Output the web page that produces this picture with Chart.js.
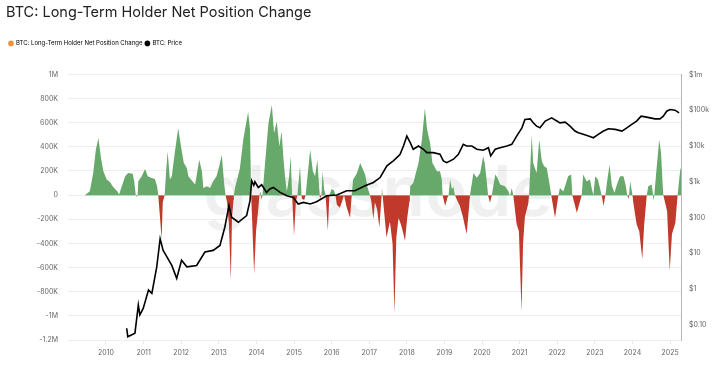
<!DOCTYPE html>
<html>
<head>
<meta charset="utf-8">
<script src="https://cdn.jsdelivr.net/npm/chart.js@4.4.1/dist/chart.umd.min.js"></script>
<style>
  html, body { margin: 0; padding: 0; background: #fff; }
  #wrap { width: 723px; height: 371px; position: relative; }
</style>
</head>
<body>
<div id="wrap"><canvas id="lth-chart"></canvas></div>
<script>
// BTC: long-term holder net position change (BTC)
const lthYears = [
  2009.44, 2009.57, 2009.66, 2009.73, 2009.80, 2009.86, 2009.93, 2010.02, 2010.11, 2010.19,
  2010.30, 2010.35, 2010.42, 2010.51, 2010.59, 2010.71, 2010.75, 2010.79, 2010.82, 2010.84,
  2010.86, 2010.95, 2011.04, 2011.11, 2011.20, 2011.30, 2011.36, 2011.39, 2011.41, 2011.48,
  2011.51, 2011.56, 2011.60, 2011.64, 2011.70, 2011.75, 2011.84, 2011.92, 2012.01, 2012.07,
  2012.15, 2012.19, 2012.26, 2012.37, 2012.41, 2012.48, 2012.55, 2012.59, 2012.68, 2012.77,
  2012.85, 2012.94, 2013.01, 2013.08, 2013.14, 2013.18, 2013.22, 2013.27, 2013.32, 2013.35,
  2013.39, 2013.40, 2013.43, 2013.56, 2013.65, 2013.78, 2013.83, 2013.86, 2013.88, 2013.94,
  2013.99, 2014.04, 2014.08, 2014.11, 2014.14, 2014.16, 2014.23, 2014.32, 2014.41, 2014.47,
  2014.54, 2014.61, 2014.67, 2014.72, 2014.76, 2014.81, 2014.87, 2014.91, 2014.95, 2015.00,
  2015.05, 2015.09, 2015.16, 2015.20, 2015.21, 2015.27, 2015.31, 2015.34, 2015.43, 2015.50,
  2015.56, 2015.62, 2015.67, 2015.69, 2015.73, 2015.76, 2015.80, 2015.84, 2015.90, 2015.94,
  2016.00, 2016.06, 2016.10, 2016.14, 2016.22, 2016.27, 2016.33, 2016.40, 2016.49, 2016.53,
  2016.57, 2016.67, 2016.76, 2016.89, 2016.96, 2017.02, 2017.06, 2017.11, 2017.15, 2017.21,
  2017.27, 2017.33, 2017.34, 2017.37, 2017.46, 2017.55, 2017.62, 2017.67, 2017.72, 2017.78,
  2017.85, 2017.91, 2017.95, 2018.01, 2018.07, 2018.08, 2018.09, 2018.17, 2018.31, 2018.40,
  2018.48, 2018.54, 2018.62, 2018.68, 2018.73, 2018.80, 2018.88, 2018.93, 2018.95, 2019.02,
  2019.08, 2019.11, 2019.15, 2019.20, 2019.24, 2019.28, 2019.32, 2019.41, 2019.49, 2019.59,
  2019.64, 2019.68, 2019.77, 2019.86, 2019.95, 2020.03, 2020.07, 2020.12, 2020.16, 2020.21,
  2020.26, 2020.35, 2020.41, 2020.48, 2020.61, 2020.70, 2020.74, 2020.79, 2020.83, 2020.92,
  2020.98, 2021.05, 2021.09, 2021.14, 2021.23, 2021.25, 2021.32, 2021.36, 2021.45, 2021.52,
  2021.59, 2021.65, 2021.72, 2021.79, 2021.84, 2021.94, 2022.03, 2022.07, 2022.16, 2022.29,
  2022.37, 2022.40, 2022.52, 2022.58, 2022.65, 2022.69, 2022.78, 2022.87, 2022.92, 2022.96,
  2023.01, 2023.08, 2023.14, 2023.18, 2023.23, 2023.28, 2023.32, 2023.39, 2023.45, 2023.52,
  2023.60, 2023.67, 2023.76, 2023.82, 2023.86, 2023.90, 2023.94, 2024.00, 2024.02, 2024.11,
  2024.18, 2024.26, 2024.31, 2024.38, 2024.42, 2024.51, 2024.55, 2024.56, 2024.58, 2024.63,
  2024.71, 2024.76, 2024.80, 2024.82, 2024.92, 2024.99, 2025.05, 2025.14, 2025.20, 2025.27,
  2025.29
];
const lthValues = [
  0, 33000, 184000, 376000, 472000, 321000, 198000, 129000, 107000, 68000,
  33000, 5000, 74000, 156000, 184000, 178000, 115000, 5000, -14000, 0,
  115000, 156000, 217000, 156000, 143000, 134000, 74000, 0, -80000, -365000,
  -60000, 0, 200000, 362000, 129000, 156000, 376000, 554000, 376000, 266000,
  225000, 156000, 129000, 88000, 160000, 294000, 198000, 60000, 74000, 60000,
  115000, 156000, 239000, 335000, 101000, 0, -60000, -250000, -708000, -200000,
  -40000, 0, 60000, 220000, 458000, 691000, 541000, 0, -150000, -653000,
  -300000, -150000, 0, 30000, -40000, 0, 266000, 595000, 746000, 513000,
  609000, 403000, 527000, 300000, 156000, 30000, 156000, 321000, 0, -337000,
  -50000, 0, 239000, 0, -30000, -40000, 0, 100000, 376000, 200000,
  156000, 294000, 60000, -30000, 0, 198000, 50000, 0, -296000, 0,
  50000, 40000, 0, -80000, -104000, -60000, 0, -100000, -187000, -20000,
  129000, 180000, 266000, 170000, 60000, 0, -60000, -200000, -60000, -120000,
  -269000, 0, 60000, -50000, -351000, -220000, -400000, -982000, -350000, -190000,
  -250000, -323000, -380000, -190000, -50000, 0, 74000, 100000, 266000, 458000,
  719000, 541000, 430000, 266000, 239000, 198000, 198000, 129000, 0, -90000,
  -20000, 0, 129000, 50000, 70000, 0, -30000, -90000, -180000, -323000,
  -150000, 0, 184000, 143000, 184000, 321000, 266000, 130000, 0, -63000,
  0, 170000, 143000, 88000, 74000, 33000, -10000, 60000, 0, -241000,
  -300000, -969000, -400000, -180000, -70000, 0, 500000, 266000, 184000, 458000,
  280000, 239000, 225000, 101000, 0, -187000, 0, 60000, 30000, 156000,
  170000, 0, -146000, -80000, 0, 170000, 115000, 129000, 50000, 0,
  156000, 129000, 50000, 0, -90000, 0, 100000, 252000, 80000, 20000,
  101000, 156000, 156000, 80000, 0, -30000, 115000, 0, -60000, -241000,
  -300000, -529000, -250000, 0, 74000, 88000, 0, -40000, 0, 184000,
  458000, 350000, 101000, 0, -132000, -625000, -323000, -230000, 0, 211000,
  225000
];

// BTC: price (USD)
const priceYears = [
  2010.55, 2010.58, 2010.77, 2010.86, 2010.90, 2010.99, 2011.13, 2011.22, 2011.35, 2011.44,
  2011.52, 2011.62, 2011.75, 2011.88, 2012.01, 2012.15, 2012.41, 2012.63, 2012.85, 2013.03,
  2013.16, 2013.27, 2013.34, 2013.52, 2013.74, 2013.83, 2013.875, 2013.93, 2013.96, 2014.05,
  2014.14, 2014.27, 2014.36, 2014.45, 2014.63, 2014.81, 2014.98, 2015.11, 2015.25, 2015.43,
  2015.60, 2015.87, 2016.14, 2016.40, 2016.62, 2016.89, 2017.11, 2017.29, 2017.47, 2017.64,
  2017.78, 2017.82, 2017.91, 2018.00, 2018.09, 2018.17, 2018.31, 2018.44, 2018.53, 2018.70,
  2018.88, 2018.97, 2019.06, 2019.24, 2019.37, 2019.50, 2019.59, 2019.73, 2019.86, 2020.03,
  2020.17, 2020.23, 2020.35, 2020.48, 2020.66, 2020.79, 2020.92, 2021.06, 2021.14, 2021.28,
  2021.36, 2021.45, 2021.54, 2021.68, 2021.85, 2021.99, 2022.07, 2022.21, 2022.34, 2022.47,
  2022.56, 2022.69, 2022.83, 2022.96, 2023.09, 2023.23, 2023.36, 2023.54, 2023.72, 2023.85,
  2023.98, 2024.11, 2024.23, 2024.34, 2024.47, 2024.60, 2024.73, 2024.82, 2024.91, 2025.00,
  2025.13, 2025.24
];
const priceValues = [
  0.081, 0.047, 0.059, 0.36, 0.19, 0.29, 0.94, 0.76, 4.2, 25.6,
  12.1, 8, 4.6, 2.0, 6.4, 4.2, 4.6, 10.9, 12.1, 16.7,
  53.8, 215, 102, 74, 114, 297, 1067, 800, 1000, 695,
  826, 505, 627, 695, 505, 408, 366, 240, 266, 240,
  278, 408, 428, 562, 562, 774, 957, 1315, 2783, 3830,
  5270, 5880, 10000, 18950, 12350, 8100, 10000, 8100, 6510, 6510,
  5880, 3830, 3436, 4270, 5880, 11150, 10000, 10000, 8100, 7600,
  8970, 5280, 8100, 8970, 10000, 11150, 18950, 32200, 55200, 57300,
  44400, 35900, 32200, 49500, 61100, 50000, 44400, 46400, 35900, 26100,
  23400, 21130, 18950, 17000, 21130, 26100, 30300, 29100, 26100, 32200,
  40100, 49500, 68100, 65200, 61100, 57300, 57300, 68100, 93800, 104500,
  100000, 84100
];

const yearTicks = [2010, 2011, 2012, 2013, 2014, 2015, 2016, 2017, 2018, 2019, 2020, 2021, 2022, 2023, 2024, 2025];
const priceTicks = [0.1, 1, 10, 100, 1000, 10000, 100000, 1000000];
const priceTickLabels = ['$0.10', '$1', '$10', '$100', '$1k', '$10k', '$100k', '$1m'];

const GREEN = '#67a86b';
const RED = '#c0392b';
const TICK_COLOR = '#666';
const FONT = 'Inter, "Open Sans", sans-serif';

function fmtNet(v) {
  if (v === 0) return '0';
  const a = Math.abs(v), s = v < 0 ? '-' : '';
  if (a >= 1000000) return s + (a / 1000000) + 'M';
  return s + (a / 1000) + 'K';
}

// faint brand mark behind the series
const watermark = {
  id: 'watermark',
  beforeDatasetsDraw(chart) {
    const ctx = chart.ctx;
    ctx.save();
    ctx.font = '600 70px ' + FONT;
    ctx.fillStyle = 'rgba(0,0,0,0.06)';
    ctx.textAlign = 'center';
    ctx.textBaseline = 'middle';
    ctx.fillText('glassnode', 378, 195);
    ctx.restore();
  }
};

// push the plot area down below the legend
const legendGap = {
  id: 'legendGap',
  beforeInit(chart) {
    const fit = chart.legend.fit;
    chart.legend.fit = function () {
      fit.bind(chart.legend)();
      this.height += 18;
    };
  }
};

new Chart(document.getElementById('lth-chart'), {
  type: 'line',
  data: {
    datasets: [
      {
        label: 'BTC: Long-Term Holder Net Position Change',
        data: lthYears.map((x, i) => ({ x: x, y: lthValues[i] })),
        yAxisID: 'y',
        borderWidth: 0,
        borderColor: 'rgba(0,0,0,0)',
        pointRadius: 0,
        fill: { target: 'origin', above: GREEN, below: RED },
        order: 2
      },
      {
        label: 'BTC: Price',
        data: priceYears.map((x, i) => ({ x: x, y: priceValues[i] })),
        yAxisID: 'y1',
        borderColor: '#000',
        backgroundColor: '#000',
        borderWidth: 1.6,
        pointRadius: 0,
        fill: false,
        order: 1
      }
    ]
  },
  options: {
    responsive: true,
    maintainAspectRatio: false,
    animation: false,
    layout: { padding: { left: 6, right: 0, top: 2, bottom: 0 } },
    plugins: {
      title: {
        display: true,
        text: 'BTC: Long-Term Holder Net Position Change',
        align: 'start',
        color: '#222',
        font: { family: FONT, size: 14.5, weight: 'normal' },
        padding: { top: 2, bottom: 16 }
      },
      legend: {
        display: true,
        align: 'start',
        labels: {
          usePointStyle: true,
          pointStyle: 'circle',
          boxWidth: 4,
          boxHeight: 4,
          padding: 3,
          color: '#555',
          font: { family: FONT, size: 6 },
          generateLabels(chart) {
            return [
              { text: 'BTC: Long-Term Holder Net Position Change', fillStyle: '#f0923c', strokeStyle: '#f0923c', lineWidth: 0, pointStyle: 'circle', datasetIndex: 0 },
              { text: 'BTC: Price', fillStyle: '#000', strokeStyle: '#000', lineWidth: 0, pointStyle: 'circle', datasetIndex: 1 }
            ];
          }
        }
      },
      tooltip: { enabled: false }
    },
    scales: {
      x: {
        type: 'linear',
        min: 2008.99,
        max: 2025.29,
        afterBuildTicks(scale) { scale.ticks = yearTicks.map(v => ({ value: v })); },
        afterFit(scale) { scale.height = 31; },
        grid: { drawOnChartArea: false, color: '#e6e6e6', tickLength: 4 },
        border: { display: false },
        ticks: {
          color: TICK_COLOR,
          font: { family: FONT, size: 7 },
          padding: 5,
          maxRotation: 0,
          autoSkip: false,
          callback: v => String(v)
        }
      },
      y: {
        position: 'left',
        min: -1200000,
        max: 1000000,
        afterFit(scale) { scale.width = 62; },
        grid: { color: '#eeeeee', drawTicks: false },
        border: { display: false },
        ticks: {
          stepSize: 200000,
          color: TICK_COLOR,
          font: { family: FONT, size: 7 },
          padding: 10,
          callback: v => fmtNet(v)
        }
      },
      y1: {
        type: 'logarithmic',
        position: 'right',
        min: 0.038,
        max: 1000000,
        afterBuildTicks(scale) { scale.ticks = priceTicks.map(v => ({ value: v })); },
        afterFit(scale) { scale.width = 42; },
        grid: { drawOnChartArea: false, drawTicks: false },
        border: { display: true, color: '#b5b5b5', width: 1 },
        ticks: {
          color: TICK_COLOR,
          font: { family: FONT, size: 7 },
          padding: 8,
          callback: (v) => {
            const i = priceTicks.indexOf(v);
            return i >= 0 ? priceTickLabels[i] : '';
          }
        }
      }
    }
  },
  plugins: [watermark, legendGap]
});
</script>
</body>
</html>
